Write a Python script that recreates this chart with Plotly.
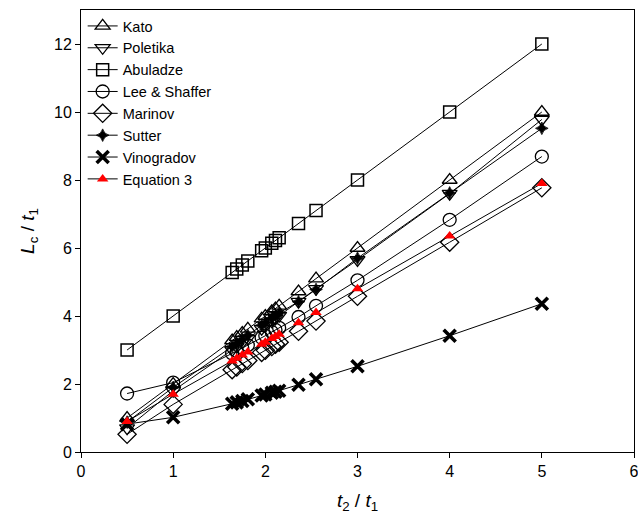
import plotly.graph_objects as go

# Thickness ratio t2/t1 shared by every model
ratio = [0.5, 1.0, 1.64, 1.69, 1.75, 1.81, 1.96, 2.0, 2.07, 2.11, 2.15, 2.36, 2.55, 3.0, 4.0, 5.0]

# Normalised length Lc/t1 for each model
kato = [1.0, 2.0, 3.28, 3.38, 3.5, 3.62, 3.92, 4.0, 4.14, 4.22, 4.3, 4.72, 5.1, 6.0, 8.0, 10.0]
poletika = [0.7, 1.8, 3.0, 3.1, 3.22, 3.34, 3.63, 3.71, 3.85, 3.93, 4.01, 4.42, 4.8, 5.65, 7.6, 9.78]
abuladze = [3.0, 4.0, 5.28, 5.38, 5.5, 5.62, 5.92, 6.0, 6.14, 6.22, 6.3, 6.72, 7.1, 8.0, 10.0, 12.0]
lee_shaffer = [1.72, 2.04, 2.9, 2.97, 3.06, 3.14, 3.36, 3.42, 3.53, 3.59, 3.65, 3.97, 4.3, 5.05, 6.83, 8.69]
marinov = [0.52, 1.4, 2.42, 2.5, 2.6, 2.69, 2.93, 2.99, 3.1, 3.17, 3.23, 3.55, 3.85, 4.58, 6.17, 7.77]
sutter = [0.88, 1.9, 3.1, 3.2, 3.31, 3.43, 3.72, 3.8, 3.93, 4.01, 4.09, 4.42, 4.78, 5.7, 7.62, 9.52]
vinogradov = [0.82, 1.02, 1.42, 1.46, 1.5, 1.55, 1.66, 1.69, 1.74, 1.77, 1.8, 1.98, 2.14, 2.52, 3.42, 4.36]
equation3 = [0.9, 1.7, 2.68, 2.76, 2.85, 2.94, 3.17, 3.23, 3.34, 3.4, 3.46, 3.8, 4.1, 4.8, 6.35, 7.9]

series = [
    ("Kato", kato, dict(symbol="triangle-up-open", size=13, color="black", line=dict(width=1.3))),
    ("Poletika", poletika, dict(symbol="triangle-down-open", size=13, color="black", line=dict(width=1.3))),
    ("Abuladze", abuladze, dict(symbol="square-open", size=12, color="black", line=dict(width=1.5))),
    ("Lee & Shaffer", lee_shaffer, dict(symbol="circle-open", size=13, color="black", line=dict(width=1.3))),
    ("Marinov", marinov, dict(symbol="diamond-open", size=14, color="black", line=dict(width=1.3))),
    ("Sutter", sutter, dict(symbol="star-diamond", size=9, color="black", line=dict(width=0.8, color="black"))),
    ("Vinogradov", vinogradov, dict(symbol="x-thin-open", size=12, color="black", line=dict(width=3.6, color="black"))),
    ("Equation 3", equation3, dict(symbol="triangle-up", size=10, color="red", line=dict(width=0))),
]

fig = go.Figure()
for name, vals, marker in series:
    fig.add_trace(go.Scatter(
        x=ratio, y=vals, name=name, mode="lines+markers",
        line=dict(color="black", width=1),
        marker=marker,
    ))

axis_common = dict(
    showgrid=False, zeroline=False, showline=True, linecolor="black", linewidth=1,
    mirror=True, ticks="outside", ticklen=5, tickwidth=1, tickcolor="black",
    ticklabeloverflow="allow", automargin=False,
    tickfont=dict(family="Liberation Sans, Arial", size=16, color="black"),
)

fig.update_layout(
    width=638, height=524,
    margin=dict(l=81, r=4, t=10, b=72),
    plot_bgcolor="white", paper_bgcolor="white",
    font=dict(family="Liberation Sans, Arial", color="black"),
    showlegend=True,
    legend=dict(
        x=0.003, y=1.0, xanchor="left", yanchor="top",
        bgcolor="rgba(0,0,0,0)", borderwidth=0,
        font=dict(size=14.5, color="black"),
        tracegroupgap=0, itemwidth=30,
    ),
    xaxis=dict(
        range=[0, 6], tickvals=[0, 1, 2, 3, 4, 5, 6],
        title=dict(text="<i>t</i><sub>2</sub> / <i>t</i><sub>1</sub>",
                   font=dict(size=19), standoff=14),
        **axis_common,
    ),
    yaxis=dict(
        range=[0, 13], tickvals=[0, 2, 4, 6, 8, 10, 12],
        title=dict(text="<i>L</i><sub>c</sub> / <i>t</i><sub>1</sub>",
                   font=dict(size=19), standoff=14),
        **axis_common,
    ),
)

fig.write_html("out.html")
